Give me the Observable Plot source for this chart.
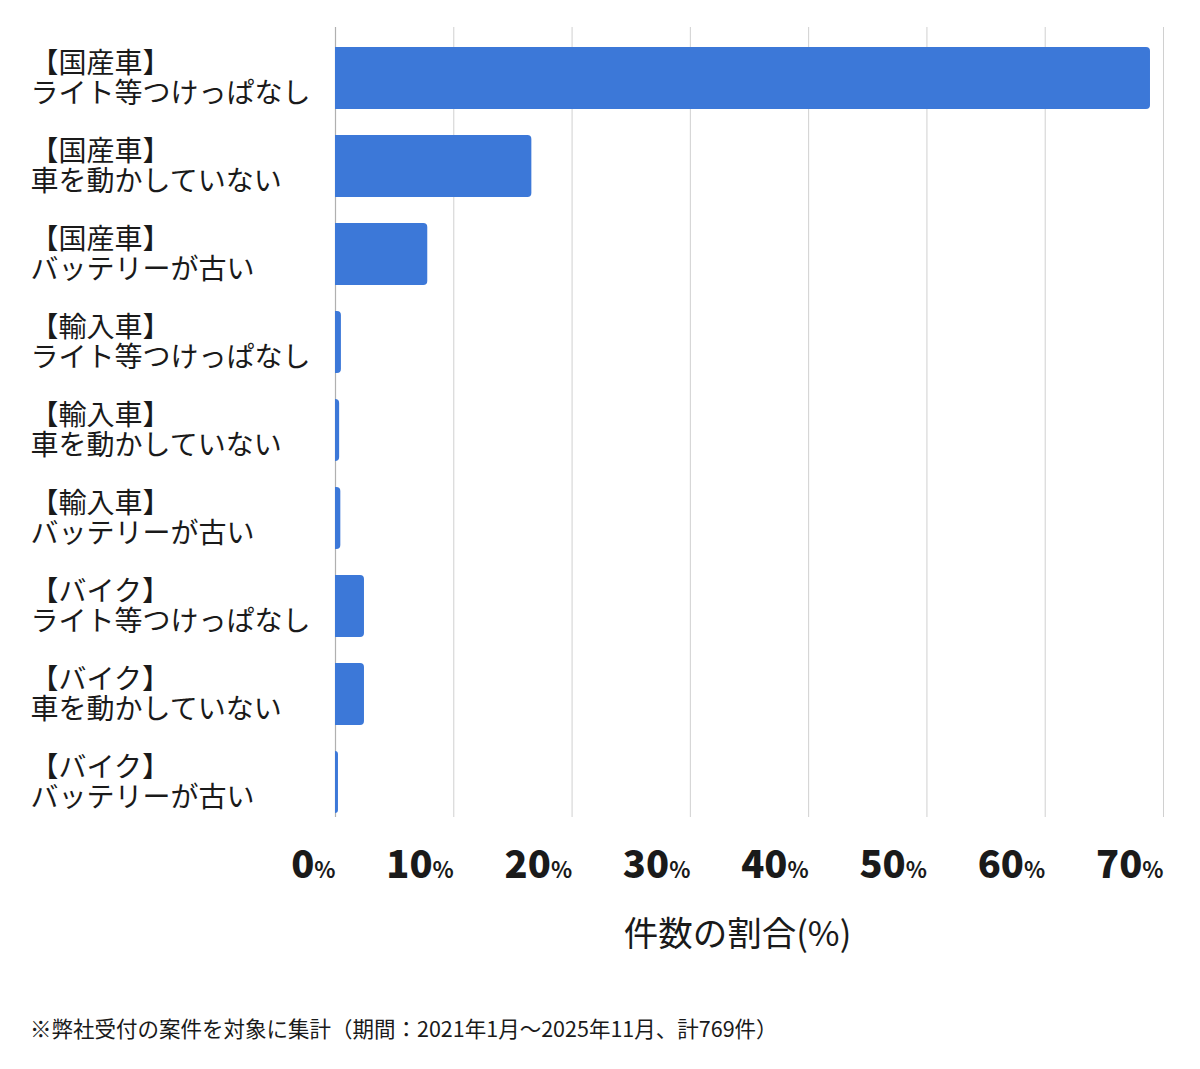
<!DOCTYPE html>
<html>
<head>
<meta charset="utf-8">
<script src="https://cdn.jsdelivr.net/npm/d3@7"></script>
<script src="https://cdn.jsdelivr.net/npm/@observablehq/plot@0.6"></script>
<style>
  body { margin: 0; background: #fff; font-family: "Noto Sans CJK JP", sans-serif; }
  #chart svg { display: block; }
  #note { margin: 35px 0 0 30px; font-size: 21.5px; line-height: 26px; color: #1a1a1a; }
</style>
</head>
<body>
<div id="chart"></div>
<div id="note">※弊社受付の案件を対象に集計（期間：2021年1月～2025年11月、計769件）</div>
<script>
const categories = [
  "【国産車】\nライト等つけっぱなし",
  "【国産車】\n車を動かしていない",
  "【国産車】\nバッテリーが古い",
  "【輸入車】\nライト等つけっぱなし",
  "【輸入車】\n車を動かしていない",
  "【輸入車】\nバッテリーが古い",
  "【バイク】\nライト等つけっぱなし",
  "【バイク】\n車を動かしていない",
  "【バイク】\nバッテリーが古い"
];
const shares = [68.9, 16.6, 7.8, 0.5, 0.35, 0.45, 2.45, 2.45, 0.25];
const xTicks = [0, 10, 20, 30, 40, 50, 60, 70];
const xTitle = "件数の割合(%)";

const data = categories.map((c, i) => ({category: c, share: shares[i]}));

const v = (Plot.version || "0.6.0").split(".").map(Number);
const newRect = v[0] > 0 || v[1] > 6 || (v[1] === 6 && v[2] >= 12);
const corner = newRect ? {rx2: 4} : {rx: 4};

const chart = Plot.plot({
  width: 1200,
  height: 980,
  marginLeft: 335,
  marginRight: 37,
  marginTop: 27,
  marginBottom: 163,
  style: {fontFamily: "'Noto Sans CJK JP', sans-serif", color: "#1a1a1a", background: "#fff"},
  x: {domain: [0, 70]},
  y: {domain: categories, range: [31.75, 828.25], paddingInner: 0.3, paddingOuter: 0.15, axis: null},
  marks: [
    Plot.gridX(xTicks, {stroke: "#d0d0d0", strokeOpacity: 1, strokeWidth: 1}),
    Plot.ruleX([0], {stroke: "#b0b0b0", strokeWidth: 1.2}),
    Plot.barX(data, {x: "share", y: "category", fill: "#3c78d8", ...corner}),
    Plot.axisX(xTicks, {
      tickSize: 0, tickPadding: 34, textAnchor: "end",
      fontSize: 38, fontWeight: 900, tickFormat: d => String(d), label: null
    }),
    Plot.text(categories, {
      y: d => d, text: d => d, frameAnchor: "left", textAnchor: "start",
      dx: -305, fontSize: 28, lineHeight: 1.07, fill: "#1a1a1a"
    }),
    Plot.text([xTitle], {
      text: d => d, frameAnchor: "bottom", dx: -12, dy: 128,
      fontSize: 34.5, fill: "#1a1a1a"
    })
  ]
});

d3.select(chart).selectAll('g[aria-label="x-axis tick label"] text').each(function() {
  const t = d3.select(this);
  const s = t.text();
  t.text(null);
  t.append("tspan").text(s);
  t.append("tspan").attr("font-size", 22).attr("font-weight", 700).text("%");
});

document.getElementById("chart").appendChild(chart);
</script>
</body>
</html>
